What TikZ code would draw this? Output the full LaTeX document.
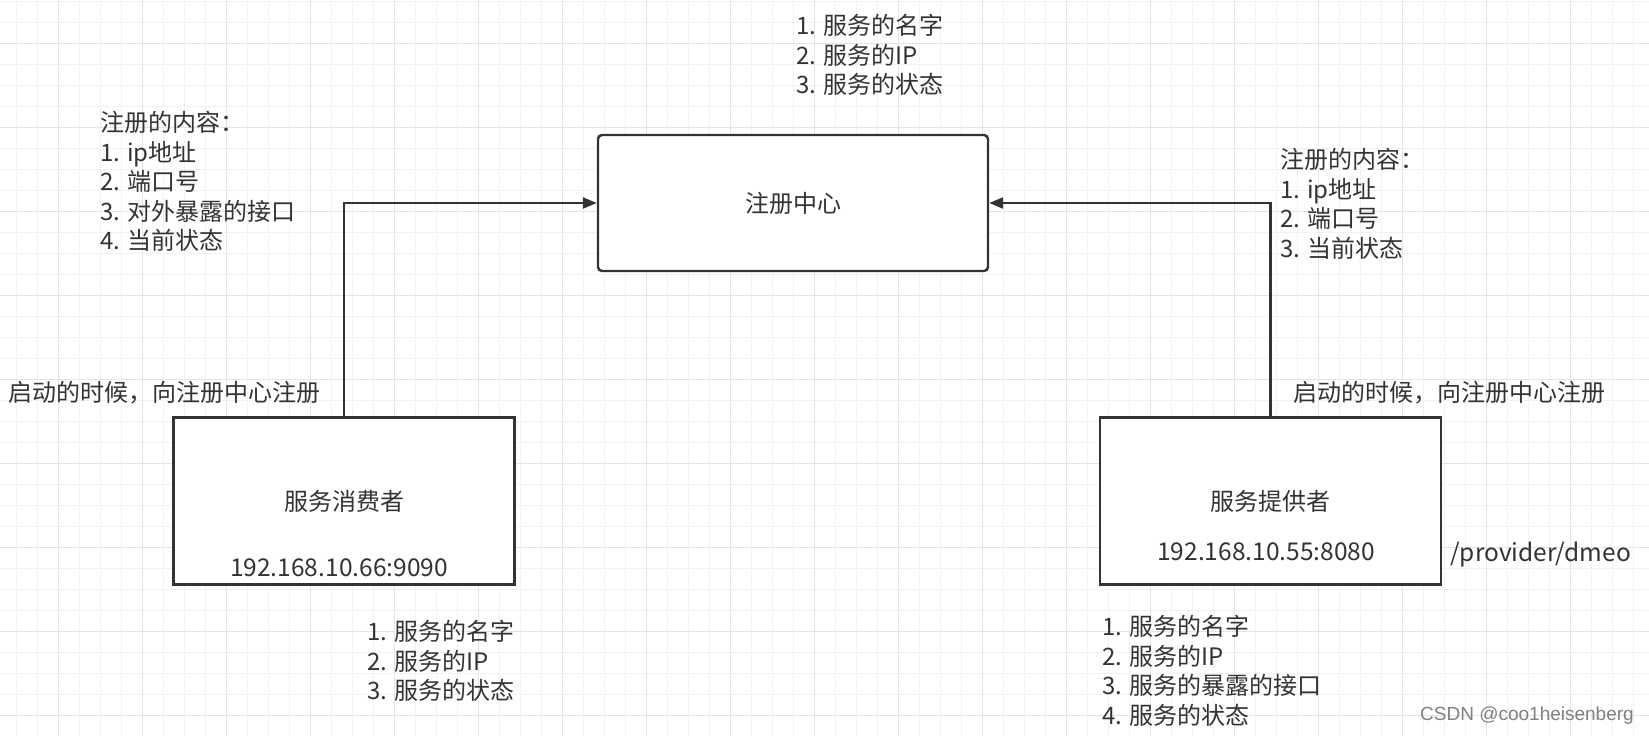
\documentclass[tikz,border=0pt]{standalone}
\usepackage{fontspec}
\setmainfont{Noto Sans CJK SC}
\newfontfamily\markfont{Liberation Sans}
\usetikzlibrary{arrows.meta,positioning}
\definecolor{inkGray}{HTML}{333333}
\definecolor{minorGray}{HTML}{F2F2F2}
\definecolor{majorGray}{HTML}{E4E4E4}

\begin{document}
\begin{tikzpicture}[x = 1pt, y = -1pt]
\tikzstyle{minorStyle} = [draw = minorGray, line width = 1pt]
\tikzstyle{majorStyle} = [draw = majorGray, line width = 1.3pt]
\tikzstyle{boxStyle} = [shape = rectangle, draw = inkGray, line width = 2.4pt, fill = white, minimum width = 341pt, minimum height = 167pt, inner sep = 0pt, text = inkGray, font = \fontsize{24}{29.5}\selectfont]
\tikzstyle{noteStyle} = [anchor = north west, align = left, inner sep = 0pt, text = inkGray, font = \fontsize{24}{29.5}\selectfont]
\tikzstyle{arrowStyle} = [draw = inkGray, line width = 2.4pt, -{Triangle[length = 14pt, width = 11pt]}]
\useasboundingbox (0,0) rectangle (1649,736);
\fill[white] (0,0) rectangle (1649,736);
\foreach \i in {0,...,78} \draw[minorStyle] (16.7+21*\i,0) -- (16.7+21*\i,736);
\foreach \i in {0,...,35} \draw[minorStyle] (0,1.3+21*\i) -- (1649,1.3+21*\i);
\foreach \i in {0,...,19} \draw[majorStyle] (58.7+84*\i,0) -- (58.7+84*\i,736);
\foreach \i in {0,...,8} \draw[majorStyle] (0,43.3+84*\i) -- (1649,43.3+84*\i);
\node[boxStyle, rounded corners = 4pt, minimum width = 390pt, minimum height = 136pt] (center) at (793,203) {注册中心};
\node[boxStyle] (consumer) at (344,501) {服务消费者};
\node[boxStyle] (provider) at (1270.5,501) {服务提供者};
\node[noteStyle, anchor = center, font = \fontsize{24.5}{29.5}\selectfont] (consumerip) at ([xshift = -5pt, yshift = -67pt]consumer.center) {192.168.10.66:9090};
\node[noteStyle, anchor = center, font = \fontsize{24.5}{29.5}\selectfont] (providerip) at ([xshift = -4.5pt, yshift = -51pt]provider.center) {192.168.10.55:8080};
\node[noteStyle, anchor = west, font = \fontsize{24.5}{29.5}\selectfont] (path) at (1450,555) {/provider/dmeo};
\node[noteStyle] (centerinfo) at (796,14) {1. 服务的名字\\2. 服务的IP\\3. 服务的状态};
\node[noteStyle] (consumerreg) at (100,111) {注册的内容：\\1. ip地址\\2. 端口号\\3. 对外暴露的接口\\4. 当前状态};
\node[noteStyle] (providerreg) at (1280,148) {注册的内容：\\1. ip地址\\2. 端口号\\3. 当前状态};
\node[noteStyle, anchor = west] (consumerstart) at (8.4,393) {启动的时候，向注册中心注册};
\node[noteStyle, anchor = west] (providerstart) at (1293.6,393) {启动的时候，向注册中心注册};
\node[noteStyle] (consumerinfo) at (367,620) {1. 服务的名字\\2. 服务的IP\\3. 服务的状态};
\node[noteStyle] (providerinfo) at (1102,615) {1. 服务的名字\\2. 服务的IP\\3. 服务的暴露的接口\\4. 服务的状态};
\node[inner sep = 0pt, text = gray, font = \markfont\fontsize{19}{22}\selectfont] (mark) at (1527,716) {CSDN @coo1heisenberg};
\draw[arrowStyle] (consumer.north) |- (center.west);
\draw[arrowStyle] (provider.north) |- (center.east);
\end{tikzpicture}
\end{document}
